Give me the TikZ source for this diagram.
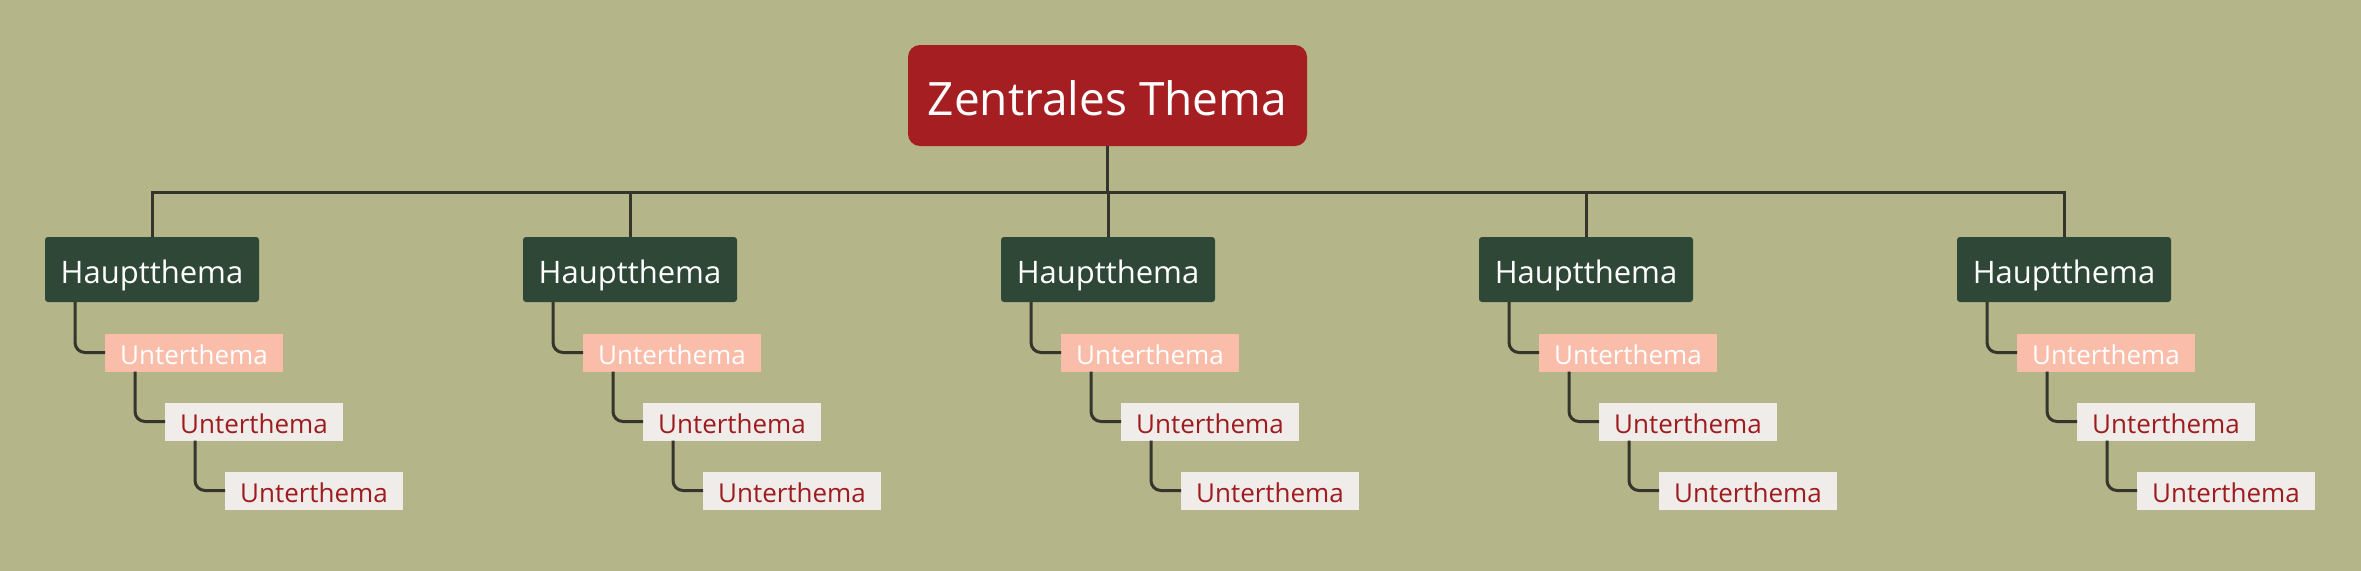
\documentclass[tikz,border=0pt]{standalone}
\usepackage{fontspec}
\setmainfont{Open Sans}
\usetikzlibrary{positioning}
\definecolor{bg}{HTML}{B4B68A}
\definecolor{zred}{HTML}{A51E22}
\definecolor{hgreen}{HTML}{2E4737}
\definecolor{usalmon}{HTML}{F9BDAA}
\definecolor{ulight}{HTML}{F0ECE9}
\definecolor{utext}{HTML}{9E1B1F}
\definecolor{wire}{HTML}{35352B}

\begin{document}
\begin{tikzpicture}[x=0.5pt, y=-0.5pt, every node/.style={inner sep=0pt, outer sep=0pt}]
  \tikzset{zbox/.style={fill=zred, text=white, rounded corners=6pt, minimum width=199.5pt, minimum height=50.5pt,
                        font=\fontsize{23}{26}\selectfont, text height=20pt, text depth=0pt},
           hbox/.style={fill=hgreen, text=white, rounded corners=1.5pt, minimum width=107pt, minimum height=32.5pt,
                        font=\fontsize{15.5}{18}\selectfont, text height=14pt, text depth=0pt, anchor=north west},
           ubox/.style={fill=ulight, text=utext, minimum width=89pt, minimum height=19pt,
                        font=\fontsize{13}{15}\selectfont, text height=11.5pt, text depth=0pt, anchor=north west},
           link/.style={draw=wire, line width=1.5pt, rounded corners=5pt}}
  \useasboundingbox (0,0) rectangle (2361,570);
  \fill[bg] (-4,-4) rectangle (2365,574);
  \node[zbox] (z) at (1107.5,95.5) {Zentrales Thema};
  \coordinate (bus) at (0,192.5);
  \foreach \i/\x in {1/45,2/523,3/1001,4/1479,5/1957}{
    \node[hbox] (h\i) at (\x,237) {Hauptthema};
    \node[ubox, fill=usalmon, text=white] (u\i a) at (\x+60,333.5) {Unterthema};
    \node[ubox] (u\i b) at (\x+120,402.5) {Unterthema};
    \node[ubox] (u\i c) at (\x+180,471.5) {Unterthema};
    \draw[link] (h\i.south west) ++(30,0) |- (u\i a.west);
    \draw[link] (u\i a.south west) ++(30,0) |- (u\i b.west);
    \draw[link] (u\i b.south west) ++(30,0) |- (u\i c.west);
    \draw[link, rounded corners=0pt] (h\i.north) -- (h\i.north |- bus);
  }
  % bus
  \draw[link, rounded corners=0pt, line cap=rect] (h1.north |- bus) -- (h5.north |- bus);
  \draw[link, rounded corners=0pt] (z.south) -- (z.south |- bus);
\end{tikzpicture}
\end{document}
